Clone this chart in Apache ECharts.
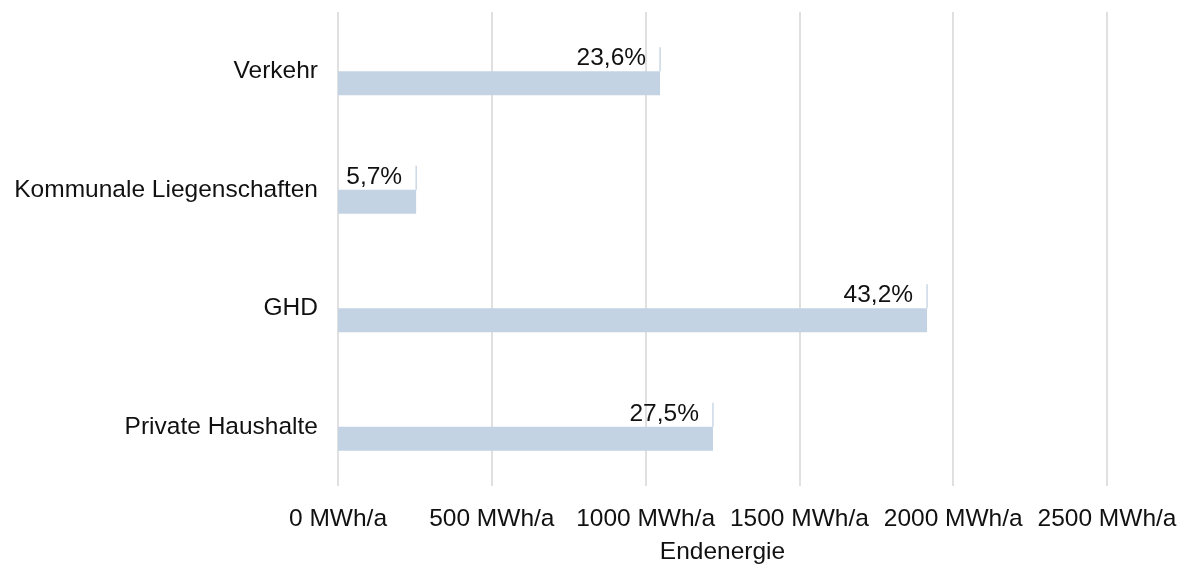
<!DOCTYPE html>
<html>
<head>
<meta charset="utf-8">
<script src="https://cdn.jsdelivr.net/npm/echarts@6/dist/echarts.min.js"></script>
<style>
  html, body { margin: 0; padding: 0; background: #fff; }
  #chart { width: 1186px; height: 568px; }
</style>
</head>
<body>
<div id="chart"></div>
<script>
// Endenergie nach Sektor (MWh/a), top to bottom
const categories = ['Verkehr', 'Kommunale Liegenschaften', 'GHD', 'Private Haushalte'];
const energy = [1047, 254, 1915, 1219];
const shares = ['23,6%', '5,7%', '43,2%', '27,5%'];
const tickUnit = 'MWh/a';
const axisTitle = 'Endenergie';

const chart = echarts.init(document.getElementById('chart'));
const font = 'Liberation Sans, Arial, sans-serif';
const textColor = '#111';
const fontSize = 24.5;

chart.setOption({
  animation: false,
  grid: { left: 338, right: 79, top: 12, bottom: 82, containLabel: false, outerBoundsMode: 'none' },
  xAxis: {
    type: 'value',
    min: 0, max: 2500, interval: 500,
    name: axisTitle,
    nameLocation: 'middle',
    nameGap: 54,
    nameTextStyle: { fontFamily: font, fontSize: fontSize, color: textColor },
    axisLine: { show: false },
    axisTick: { show: false },
    axisLabel: {
      formatter: v => v + ' ' + tickUnit,
      fontFamily: font, fontSize: fontSize, color: textColor, margin: 21
    },
    splitLine: { lineStyle: { color: '#e0e0e0', width: 2 } }
  },
  yAxis: {
    type: 'category',
    data: categories,
    inverse: true,
    axisLine: { show: false },
    axisTick: { show: false },
    axisLabel: {
      fontFamily: font, fontSize: fontSize, color: textColor, margin: 20,
      padding: [4, 0, 0, 0]
    }
  },
  series: [
    {
      // percentage share: thin marker above each bar end, label just left of it
      type: 'bar',
      data: energy,
      barWidth: 24,
      barGap: '0%',
      itemStyle: { color: 'rgba(0,0,0,0)' },
      label: {
        show: true,
        position: 'insideRight',
        distance: 14,
        offset: [0, -1],
        formatter: p => shares[p.dataIndex],
        fontFamily: font, fontSize: fontSize, color: textColor
      },
      z: 3
    },
    {
      type: 'bar',
      data: energy,
      barWidth: 24,
      itemStyle: { color: '#c3d3e3' },
      z: 2
    },
    {
      type: 'scatter',
      data: energy.map((v, i) => [v, i]),
      symbol: 'rect',
      symbolSize: [1, 24],
      symbolOffset: [0, -12],
      itemStyle: { color: '#9db4ce' },
      z: 4
    }
  ]
});
</script>
</body>
</html>
